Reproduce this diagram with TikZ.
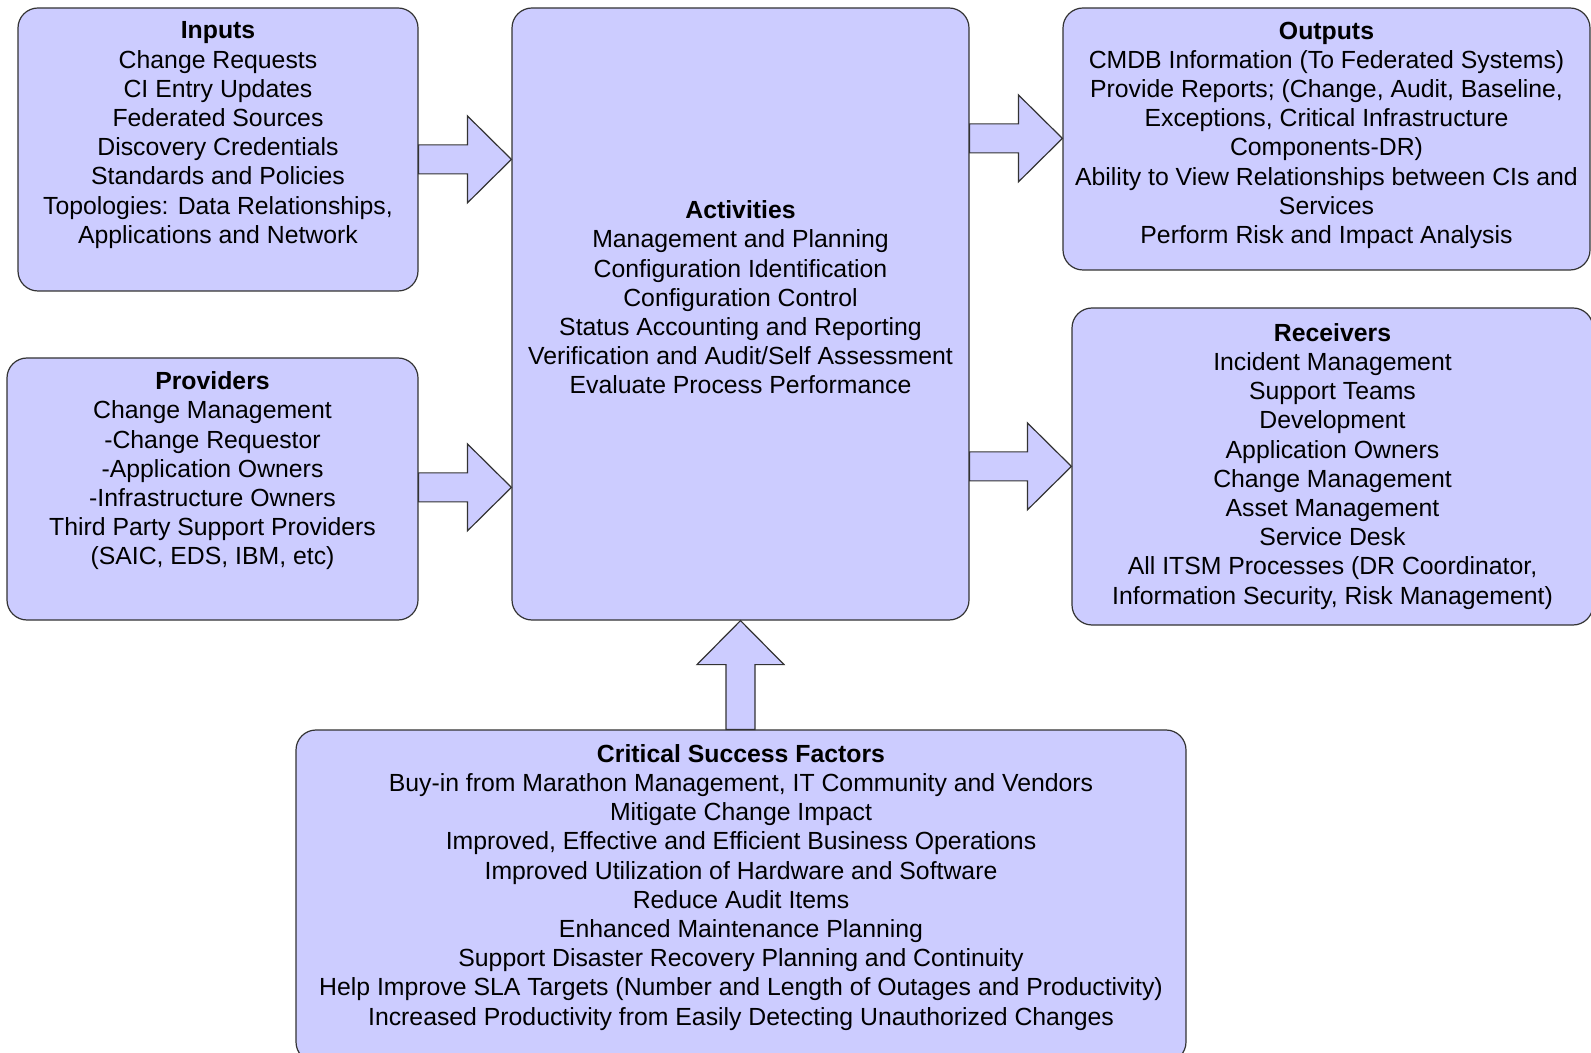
\documentclass[tikz,border=0pt]{standalone}
\usepackage{fontspec}
\setmainfont{Liberation Sans}
\usetikzlibrary{calc}
\usetikzlibrary{fit}
\definecolor{panelfill}{HTML}{CCCCFF}
\definecolor{panelline}{HTML}{333333}
\tikzset{
    panel/.style={draw=panelline, fill=panelfill, rounded corners=10pt,
        line width=0.6pt, inner sep=0pt},
    panel text/.style={anchor=north, align=center, inner sep=0pt,
        font=\fontsize{12.4}{14.6}\selectfont},
    fat arrow/.style={draw=panelline, fill=panelfill, line width=0.6pt},
}
% block arrow pointing right, from the x of #1 to the tip #2
\newcommand\blockright[2]{%
    \draw[fat arrow] let \p1=(#1), \p2=(#2) in
        (\x1,\y2+\sw) -- (\x2-\hl,\y2+\sw) -- (\x2-\hl,\y2+\hw) -- (\x2,\y2)
        -- (\x2-\hl,\y2-\hw) -- (\x2-\hl,\y2-\sw) -- (\x1,\y2-\sw) -- cycle;}

\begin{document}
\begin{tikzpicture}[x=0.5pt, y=-0.5pt]
    \useasboundingbox (0,0) rectangle (1591,1053);

    \def\sw{7.25pt} \def\hw{21.75pt} \def\hl{22pt}

    \node[panel, fit={(18,8) (418,291)}] (in) {};
    \node[panel, fit={(7,358) (418,620)}] (pr) {};
    \node[panel, fit={(512,8) (969,620)}] (act) {};
    \node[panel, fit={(1063,8) (1590,270)}] (out) {};
    \node[panel, fit={(1072,308) (1593,625)}] (rec) {};
    \node[panel, fit={(296,730) (1186,1062)}] (csf) {};

    \node[panel text, yshift=-7pt] (inT) at (in.north)
        {\textbf{Inputs}\\Change Requests\\CI Entry Updates\\Federated Sources\\
         Discovery Credentials\\Standards and Policies\\
         Topologies: Data Relationships,\\Applications and Network};
    \node[panel text, yshift=-7pt] (prT) at (pr.north)
        {\textbf{Providers}\\Change Management\\-Change Requestor\\
         -Application Owners\\-Infrastructure Owners\\
         Third Party Support Providers\\(SAIC, EDS, IBM, etc)};
    \node[panel text, yshift=-96.5pt] (actT) at (act.north)
        {\textbf{Activities}\\Management and Planning\\Configuration Identification\\
         Configuration Control\\Status Accounting and Reporting\\
         Verification and Audit/Self Assessment\\Evaluate Process Performance};
    \node[panel text, yshift=-7pt] (outT) at (out.north)
        {\textbf{Outputs}\\CMDB Information (To Federated Systems)\\
         Provide Reports; (Change, Audit, Baseline,\\
         Exceptions, Critical Infrastructure\\Components-DR)\\
         Ability to View Relationships between CIs and\\Services\\
         Perform Risk and Impact Analysis};
    \node[panel text, yshift=-7.8pt] (recT) at (rec.north)
        {\textbf{Receivers}\\Incident Management\\Support Teams\\Development\\
         Application Owners\\Change Management\\Asset Management\\Service Desk\\
         All ITSM Processes (DR Coordinator,\\
         Information Security, Risk Management)};
    \node[panel text, yshift=-7.3pt] (csfT) at (csf.north)
        {\textbf{Critical Success Factors}\\
         Buy-in from Marathon Management, IT Community and Vendors\\
         Mitigate Change Impact\\
         Improved, Effective and Efficient Business Operations\\
         Improved Utilization of Hardware and Software\\
         Reduce Audit Items\\Enhanced Maintenance Planning\\
         Support Disaster Recovery Planning and Continuity\\
         Help Improve SLA Targets (Number and Length of Outages and Productivity)\\
         Increased Productivity from Easily Detecting Unauthorized Changes};

    \coordinate (inTip) at ($(act.north west)+(0,152)$);
    \coordinate (prTip) at ($(act.north west)+(0,480)$);
    \coordinate (outTip) at ($(out.north west)+(0,131)$);
    \coordinate (recTip) at ($(rec.north west)+(0,159)$);

    \foreach \S/\T in {in/inTip, pr/prTip, act/outTip, act/recTip}{
        \blockright{\S.east}{\T}
    }

    \draw[fat arrow] let \p1=(csf.north), \p2=(act.south) in
        (\x2-\sw,\y1) -- (\x2-\sw,\y2-\hl) -- (\x2-\hw,\y2-\hl) -- (\x2,\y2)
        -- (\x2+\hw,\y2-\hl) -- (\x2+\sw,\y2-\hl) -- (\x2+\sw,\y1) -- cycle;

\end{tikzpicture}
\end{document}
